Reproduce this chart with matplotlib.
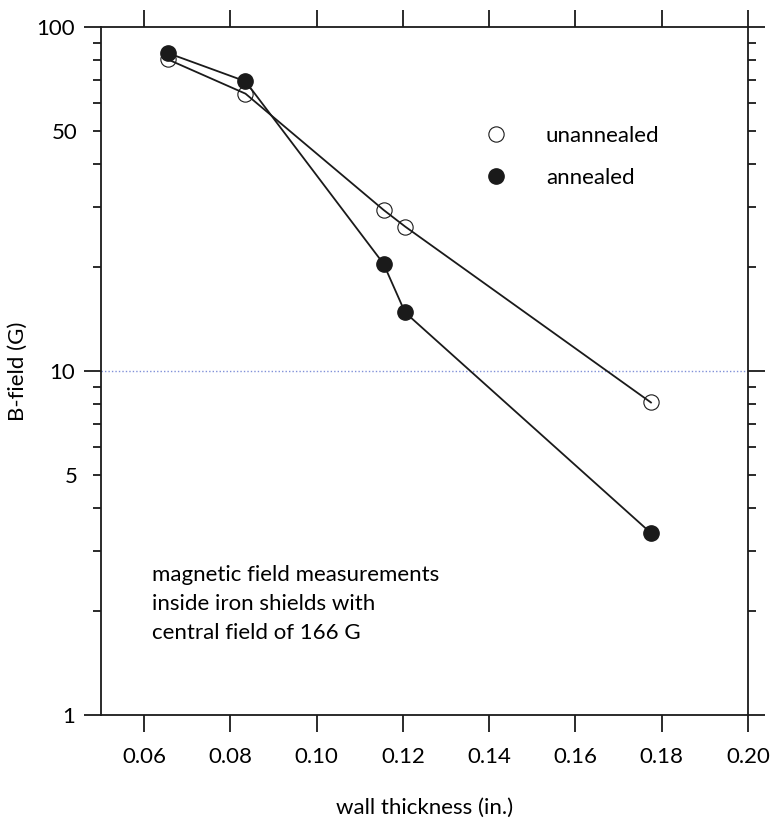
import numpy as np
import matplotlib
matplotlib.use('Agg')
import matplotlib.pyplot as plt
from matplotlib.ticker import FixedLocator, FuncFormatter

plt.rcParams['font.family'] = ['Lato', 'DejaVu Sans']

# --- data --------------------------------------------------------------------
thickness = [0.0655, 0.0835, 0.1155, 0.1205, 0.1775]
b_unannealed = [80.5, 64.0, 29.4, 26.3, 8.1]
b_annealed = [84.0, 69.5, 20.5, 14.8, 3.38]

x_ticks = [0.06, 0.08, 0.10, 0.12, 0.14, 0.16, 0.18, 0.20]
y_major = [1, 10, 100]
y_minor = [2, 3, 4, 5, 6, 7, 8, 9, 20, 30, 40, 50, 60, 70, 80, 90]
y_minor_labels = [5, 50]

note = 'magnetic field measurements\ninside iron shields with\ncentral field of 166 G'

FS = 16
INK = '#1a1a1a'

fig = plt.figure(figsize=(7.72, 8.22), dpi=100)
ax = fig.add_axes([101/772, 107/822, 647/772, 688/822])

ax.axhline(10, color='#8090d8', lw=1.0, ls=(0, (1, 1.5)), zorder=1)

ax.plot(thickness, b_unannealed, color=INK, lw=1.3, zorder=2,
        marker='o', ms=11, mfc='none', mec=INK, mew=0.8)
ax.plot(thickness, b_annealed, color=INK, lw=1.3, zorder=3,
        marker='o', ms=11, mfc=INK, mec=INK)

ax.set_yscale('log')
ax.set_xlim(0.05, 0.20)
ax.set_ylim(1, 100)

ax.xaxis.set_major_locator(FixedLocator(x_ticks))
ax.xaxis.set_major_formatter(FuncFormatter(lambda v, p: f'{v:.2f}'))
ax.xaxis.set_minor_locator(FixedLocator([]))
ax.yaxis.set_major_locator(FixedLocator(y_major))
ax.yaxis.set_major_formatter(FuncFormatter(lambda v, p: f'{v:g}'))
ax.yaxis.set_minor_locator(FixedLocator(y_minor))
ax.yaxis.set_minor_formatter(
    FuncFormatter(lambda v, p: f'{v:g}' if round(v) in y_minor_labels else ''))

ax.tick_params(axis='x', which='major', direction='out', length=12, width=1.3,
               top=True, bottom=True, labelsize=FS, pad=11, color=INK)
ax.tick_params(axis='y', which='major', direction='out', length=12, width=1.3,
               left=True, right=True, labelsize=FS, pad=7, color=INK)
ax.tick_params(axis='y', which='minor', direction='out', length=6, width=1.3,
               left=True, right=True, labelsize=FS, pad=11, color=INK)
for s in ax.spines.values():
    s.set_linewidth(1.3)
    s.set_color(INK)

ax.set_xlabel('wall thickness (in.)', fontsize=FS, labelpad=22)
ax.set_ylabel('B-field (G)', fontsize=FS, labelpad=6)

h_open, = ax.plot([], [], 'o', ms=11, mfc='none', mec=INK, mew=0.8)
h_fill, = ax.plot([], [], 'o', ms=11, mfc=INK, mec=INK)
ax.legend([h_open, h_fill], ['unannealed', 'annealed'], loc='upper left',
          bbox_to_anchor=(0.594, 0.856), frameon=False, fontsize=FS,
          handlelength=1.0, handletextpad=1.73, labelspacing=0.98,
          borderpad=0, borderaxespad=0)

ax.text(0.079, 0.218, note, transform=ax.transAxes, fontsize=FS,
        va='top', ha='left', linespacing=1.55)

fig.savefig('out.png', dpi=100)
